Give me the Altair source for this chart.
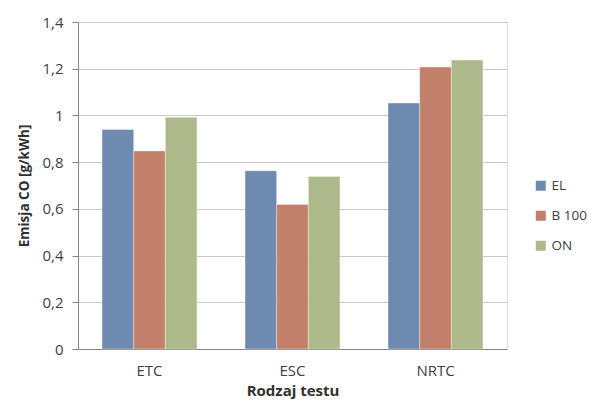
import altair as alt
import pandas as pd

categories = ["ETC", "ESC", "NRTC"]
series = ["EL", "B 100", "ON"]
el = [0.94, 0.763, 1.053]
b100 = [0.848, 0.619, 1.207]
on = [0.992, 0.739, 1.237]
colors = ["#6F8AB0", "#C2806A", "#AEB98B"]

rows = []
for i, c in enumerate(categories):
    for s, vals in zip(series, [el, b100, on]):
        rows.append({"test": c, "fuel": s, "value": vals[i]})
df = pd.DataFrame(rows)

font = "Open Sans"
txt = "#404040"

chart = alt.Chart(df).mark_bar(stroke="white", strokeWidth=0.6, strokeOpacity=0.6).encode(
    x=alt.X("test:N", sort=categories, title="Rodzaj testu",
            scale=alt.Scale(paddingInner=0.336, paddingOuter=0.168),
            axis=alt.Axis(labelAngle=0, ticks=False, domainColor="#868686",
                          labelPadding=14, titlePadding=5, labelFontSize=15,
                          titleFontSize=15, titleFontWeight="bold",
                          labelColor=txt, titleColor="#303030")),
    xOffset=alt.XOffset("fuel:N", sort=series, scale=alt.Scale(paddingInner=0, paddingOuter=0)),
    y=alt.Y("value:Q", title="Emisja CO [g/kWh]",
            scale=alt.Scale(domain=[0, 1.4], nice=False),
            axis=alt.Axis(values=[0, 0.2, 0.4, 0.6, 0.8, 1.0, 1.2, 1.4],
                          labelExpr="replace(format(datum.value, '~g'), '.', ',')",
                          tickSize=6, tickColor="#868686", domainColor="#868686",
                          gridColor="#C8C8C8", labelPadding=9, titlePadding=10,
                          labelFontSize=15, titleFontSize=13.5, titleFontWeight="bold",
                          labelColor=txt, titleColor="#303030")),
    color=alt.Color("fuel:N", sort=series, title=None,
                    scale=alt.Scale(domain=series, range=colors),
                    legend=alt.Legend(orient="none", legendX=456, legendY=157,
                                      symbolType="square", symbolSize=100,
                                      symbolStrokeWidth=0, labelFontSize=13.5,
                                      labelColor=txt, rowPadding=15, labelOffset=4)),
).properties(
    width=429, height=327,
    autosize=alt.AutoSizeParams(type="none"),
    padding={"left": 70, "top": 14, "right": 80, "bottom": 52},
).configure_view(stroke=None).configure(font=font)

chart.save("out.html", embed_options={"renderer": "svg", "actions": False})
